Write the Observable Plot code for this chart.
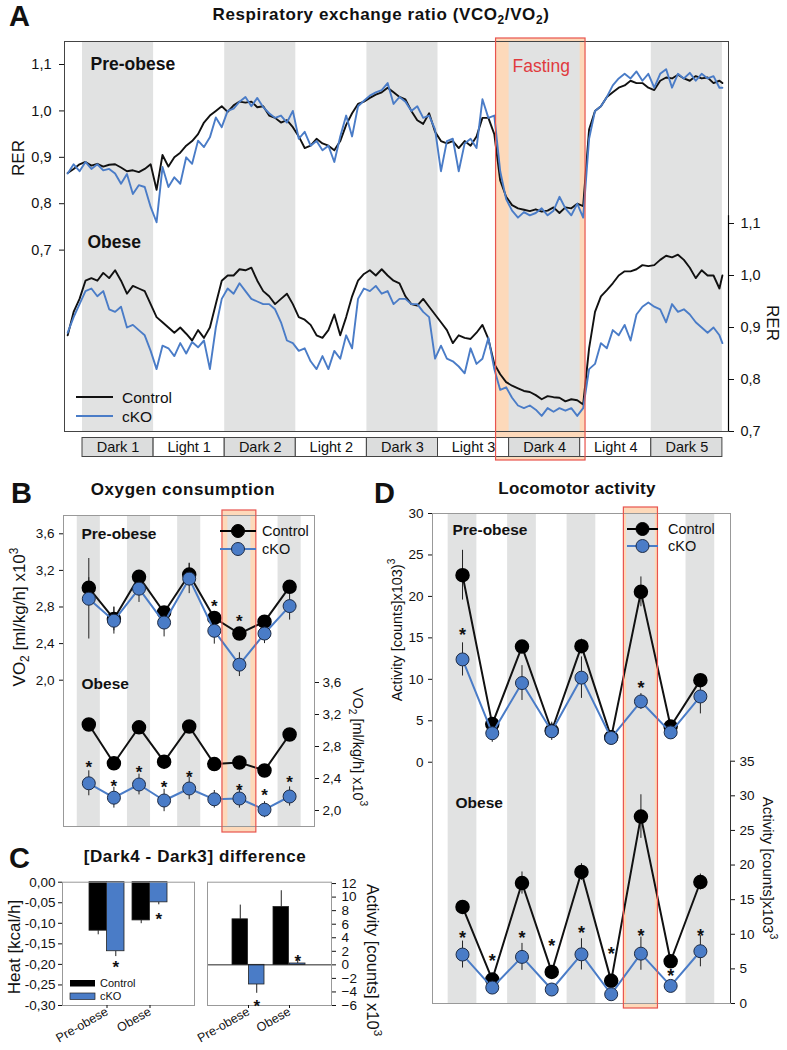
<!DOCTYPE html>
<html><head><meta charset="utf-8">
<script src="https://cdn.jsdelivr.net/npm/d3@7"></script>
<script src="https://cdn.jsdelivr.net/npm/@observablehq/plot@0.6"></script>
<style>
body{margin:0;background:#fff;}
#fig{position:relative;width:787px;height:1050px;overflow:hidden;background:#fff;}
#fig svg{position:absolute;}
</style></head><body><div id="fig"></div>
<script>
// ---------------- DATA ----------------
// Panel A: RER time course (hours from start of Dark 1)
const hoursA = d3.range(-2.5, 108, 1).concat([108]);
const preCtrl = [0.866,0.875,0.885,0.89,0.882,0.886,0.88,0.884,0.885,0.878,0.87,0.872,0.868,0.875,0.885,0.83,0.905,0.88,0.9,0.91,0.925,0.935,0.95,0.975,0.99,1.0,1.01,0.998,
 1.012,1.02,1.018,1.02,1.008,1.01,0.99,0.985,0.975,0.98,0.965,0.945,0.92,0.925,0.94,0.93,0.925,0.915,0.935,0.97,0.995,1.015,1.02,1.028,1.035,1.04,1.05,1.04,1.03,
 1.025,1.0,0.98,0.972,0.995,0.955,0.935,0.93,0.935,0.92,0.935,0.925,0.945,0.985,0.985,0.95,0.85,0.815,0.797,0.79,0.787,0.784,0.788,0.783,0.785,0.792,0.78,
 0.792,0.79,0.8,0.795,0.96,1.0,1.01,1.03,1.04,1.05,1.055,1.065,1.06,1.06,1.05,1.045,1.065,1.072,1.07,1.078,1.07,1.065,1.075,1.07,1.072,1.06,1.065,1.06];
const preKO = [0.865,0.885,0.87,0.89,0.875,0.885,0.872,0.875,0.865,0.843,0.864,0.821,0.84,0.836,0.793,0.76,0.879,0.836,0.857,0.843,0.9,0.886,0.936,0.922,0.943,0.986,0.965,1.0,
 1.005,1.02,1.03,1.01,1.028,1.008,0.995,0.985,0.99,0.975,1.0,0.94,0.955,0.925,0.935,0.915,0.925,0.89,0.945,0.99,0.945,1.01,1.022,1.033,1.04,1.045,1.06,1.015,1.03,
 1.02,1.0,1.01,0.985,0.99,0.96,0.87,0.935,0.94,0.87,0.93,0.94,0.92,1.025,0.985,0.99,0.87,0.81,0.785,0.77,0.782,0.775,0.78,0.79,0.775,0.785,0.815,
 0.79,0.775,0.8,0.77,0.94,1.0,1.01,1.03,1.055,1.07,1.08,1.07,1.085,1.065,1.08,1.05,1.08,1.09,1.05,1.08,1.07,1.082,1.065,1.08,1.07,1.075,1.05,1.05];
const obCtrl = [0.885,0.93,0.955,0.99,0.995,0.99,1.005,0.995,1.01,0.99,0.965,0.98,0.975,0.97,0.945,0.92,0.91,0.9,0.89,0.9,0.888,0.875,0.895,0.88,0.9,0.945,0.99,1.0,
 1.0,1.012,1.01,1.015,0.99,0.97,0.96,0.945,0.955,0.965,0.945,0.92,0.915,0.905,0.885,0.88,0.895,0.925,0.885,0.92,0.96,0.99,1.003,1.01,1.0,1.012,1.0,0.99,0.985,
 0.96,0.945,0.942,0.955,0.94,0.925,0.91,0.895,0.87,0.885,0.88,0.878,0.89,0.905,0.878,0.83,0.81,0.795,0.788,0.783,0.778,0.776,0.77,0.762,0.768,0.766,0.765,
 0.758,0.762,0.76,0.752,0.86,0.93,0.96,0.972,0.985,1.0,1.008,1.008,1.012,1.02,1.018,1.02,1.03,1.038,1.035,1.04,1.03,1.015,0.995,1.01,1.0,1.0,0.975,1.0];
const obKO = [0.89,0.92,0.945,0.97,0.975,0.96,0.97,0.935,0.93,0.94,0.9,0.905,0.895,0.885,0.855,0.82,0.865,0.86,0.845,0.87,0.85,0.872,0.862,0.875,0.82,0.9,0.955,0.975,
 0.965,0.985,0.97,0.955,0.95,0.945,0.945,0.935,0.91,0.875,0.87,0.855,0.86,0.835,0.82,0.845,0.82,0.855,0.84,0.885,0.86,0.955,0.975,0.97,0.98,0.965,0.97,0.945,0.955,
 0.955,0.945,0.945,0.93,0.92,0.84,0.865,0.84,0.835,0.825,0.812,0.86,0.83,0.84,0.88,0.82,0.78,0.785,0.765,0.75,0.745,0.75,0.742,0.73,0.745,0.738,0.745,
 0.74,0.745,0.73,0.745,0.82,0.83,0.87,0.86,0.895,0.885,0.905,0.875,0.925,0.94,0.948,0.94,0.935,0.91,0.945,0.93,0.935,0.925,0.91,0.9,0.89,0.9,0.885,0.87];
const periodLabels = ["Dark 1","Light 1","Dark 2","Light 2","Dark 3","Light 3","Dark 4","Light 4","Dark 5"];
const periodStart = [0,12,24,36,48,60,72,84,96];
const periodHours = 12;
const fastingHours = [69.8, 84.9];
const rerTicks = [0.7,0.8,0.9,1.0,1.1];

// Panel B: VO2 (x10^3 ml/kg/h), 9 periods
const bPreCtrl = [3.01,2.67,3.13,2.74,3.155,2.68,2.51,2.64,3.02];
const bPreCtrlErr = [0.11,0.13,0.07,0.05,0.124,0.05,0.05,0.05,0.05];
const bPreKO = [2.89,2.65,3.0,2.63,3.11,2.54,2.17,2.51,2.81];
const bPreKOErr = [0.44,0.146,0.15,0.157,0.164,0.146,0.13,0.11,0.153];
const bObCtrl = [3.075,2.59,3.04,2.61,3.05,2.58,2.6,2.5,2.95];
const bObCtrlErr = [0.04,0.04,0.04,0.04,0.04,0.04,0.04,0.04,0.04];
const bObKO = [2.34,2.16,2.325,2.125,2.275,2.14,2.15,2.01,2.175];
const bObKOErr = [0.156,0.13,0.13,0.14,0.14,0.11,0.12,0.1,0.12];
const vo2Ticks = [2.0,2.4,2.8,3.2,3.6];
const starsBPre = [{i:5,y:2.852},{i:6,y:2.69}];
const starsBOb = [{i:0,y:2.59},{i:1,y:2.354},{i:2,y:2.525},{i:3,y:2.34},{i:4,y:2.47},{i:6,y:2.30},{i:7,y:2.24},{i:8,y:2.40}];

// Panel C: Dark4 - Dark3 differences
const groups = ["Pre-obese","Obese"];
const heatCtrl = [-0.118,-0.093], heatCtrlErr = [0.01,0.008];
const heatKO = [-0.168,-0.049], heatKOErr = [0.013,0.006];
const actCtrl = [6.72,8.54], actCtrlErr = [2.1,2.4];
const actKO = [-2.9,0.2], actKOErr = [1.3,0.55];
const heatTicks = [-0.30,-0.25,-0.20,-0.15,-0.10,-0.05,0.00];
const actTicks = [-6,-4,-2,0,2,4,6,8,10,12];
const starsHeat = [{g:"Pre-obese",y:-0.196},{g:"Obese",y:-0.081}];
const starsAct = [{g:"Pre-obese",y:-5.53},{g:"Obese",y:1.08}];

// Panel D: locomotor activity (counts x10^3)
const dPreCtrl = [22.56,4.6,13.95,3.8,14.0,3.0,20.55,4.3,9.9];
const dPreCtrlErr = [3.0,0.4,0.5,0.4,0.84,0.3,1.8,0.4,0.5];
const dPreKO = [12.4,3.5,9.55,3.73,10.2,2.93,7.33,3.6,7.93];
const dPreKOErr = [2.0,1.1,2.1,1.1,2.5,0.3,0.95,0.8,2.1];
const dObCtrl = [13.94,3.46,17.4,4.56,19.0,3.27,27.0,6.1,17.55];
const dObCtrlErr = [0.5,0.4,1.6,0.5,1.2,0.4,3.15,0.5,1.15];
const dObKO = [7.07,2.3,6.73,2.02,7.1,1.34,7.2,2.54,7.55];
const dObKOErr = [1.95,0.5,1.95,0.4,2.25,0.3,2.4,0.5,2.25];
const actPreTicks = [0,5,10,15,20,25,30];
const actObTicks = [0,5,10,15,20,25,30,35];
const starsDPre = [{i:0,y:15.87},{i:6,y:9.48}];
const starsDOb = [{i:0,y:10.1},{i:1,y:6.72},{i:2,y:10.1},{i:3,y:8.89},{i:4,y:10.82},{i:5,y:7.79},{i:6,y:10.43},{i:7,y:4.56},{i:8,y:10.43}];
const darkIdx = [0,2,4,6,8];
const fastIdx = 6;

// ---------------- STYLE ----------------
const FONT = "'Liberation Sans', Arial, Helvetica, sans-serif";
const BLACK = "#111", BLUE = "#4a7cc7", GRAY = "#e1e2e2", ORANGE = "#fdd9ba", RED = "#e8544e";
const baseStyle = {fontFamily: FONT, fontSize: "13px", background: "transparent", overflow: "visible", color: "#111"};
const comma = p => d => d.toFixed(p).replace(".", ",");
const fig = document.getElementById("fig");
function place(svg, left, top) {
  svg.style.position = "absolute"; svg.style.left = left + "px"; svg.style.top = top + "px";
  fig.appendChild(svg);
}

// ---------------- PANEL A ----------------
const aX = {domain: [-3.04, 109.03], axis: null};
const aM = {marginLeft: 64, marginRight: 59};
const serA = vals => hoursA.map((h, i) => ({h, v: vals[i]}));
const periods = periodLabels.map((label, i) => ({label, start: periodStart[i], end: periodStart[i] + periodHours, dark: label.startsWith("Dark")}));
const darkA = periods.filter(d => d.dark);
const fastA = [{start: fastingHours[0], end: fastingHours[1]}];

place(Plot.plot({width: 787, height: 422, marginTop: 0, marginBottom: 0, ...aM, style: baseStyle, x: aX, y: {axis: null},
  marks: [Plot.rect(fastA, {x1: "start", x2: "end", fill: ORANGE})]}), 0, 38);

place(Plot.plot({width: 787, height: 470, marginTop: 41, marginBottom: 39, ...aM, style: baseStyle, x: aX,
  y: {domain: [0.3091, 1.1496], axis: null},
  marks: [
    Plot.rect(darkA, {x1: "start", x2: "end", fill: GRAY}),
    Plot.line(serA(preCtrl), {x: "h", y: "v", stroke: BLACK, strokeWidth: 1.9}),
    Plot.line(serA(preKO), {x: "h", y: "v", stroke: BLUE, strokeWidth: 1.9}),
    Plot.frame({stroke: "#444"}),
    Plot.axisY({anchor: "left", ticks: rerTicks, tickFormat: comma(1), tickSize: 5, tickPadding: 8, fontSize: 14.5, label: null}),
    Plot.text(["Pre-obese"], {frameAnchor: "top-left", dx: 26, dy: 16, lineAnchor: "top", textAnchor: "start", fontWeight: "bold", fontSize: 17.5}),
    Plot.text(["Fasting"], {frameAnchor: "top-left", dx: 448, dy: 18, lineAnchor: "top", textAnchor: "start", fill: "#e03a3e", fontSize: 17.5})
  ]}), 0, 0);

place(Plot.plot({width: 787, height: 470, marginTop: 41, marginBottom: 39, ...aM, style: baseStyle, x: aX,
  y: {domain: [0.7, 1.45], axis: null},
  marks: [
    Plot.line(serA(obCtrl), {x: "h", y: "v", stroke: BLACK, strokeWidth: 1.9}),
    Plot.line(serA(obKO), {x: "h", y: "v", stroke: BLUE, strokeWidth: 1.9}),
    Plot.ruleX([aX.domain[1]], {y1: rerTicks[0], y2: 1.115, stroke: "#000", strokeWidth: 1.2}),
    Plot.axisY({anchor: "right", ticks: rerTicks, tickFormat: comma(1), tickSize: 5, tickPadding: 7, fontSize: 14.5, label: null}),
    Plot.text(["Obese"], {frameAnchor: "top-left", dx: 23, dy: 194, lineAnchor: "top", textAnchor: "start", fontWeight: "bold", fontSize: 17.5})
  ]}), 0, 0);

place(Plot.plot({width: 787, height: 20, marginTop: 0.5, marginBottom: 0.5, ...aM, style: baseStyle, x: aX, y: {axis: null},
  marks: [
    Plot.rect(periods, {x1: "start", x2: "end", fill: d => d.dark ? "#dcdddd" : "#fff", stroke: "#444", strokeWidth: 1}),
    Plot.text(periods, {x: d => d.start + periodHours / 2, text: "label", frameAnchor: "middle", fontSize: 14.5})
  ]}), 0, 437);

place(Plot.plot({width: 787, height: 422, marginTop: 0, marginBottom: 0, ...aM, style: baseStyle, x: aX, y: {axis: null},
  marks: [Plot.rect(fastA, {x1: "start", x2: "end", fill: "none", stroke: RED, strokeWidth: 1.2})]}), 0, 38);

// ---------------- helper for B & D ----------------
function pointPanel(cfg) {
  const rows = (c, ce, k, ke) => c.map((v, i) => ({i, c: v, ce: ce[i], k: k[i], ke: ke[i]}));
  const pre = rows(cfg.preC, cfg.preCE, cfg.preK, cfg.preKE);
  const ob = rows(cfg.obC, cfg.obCE, cfg.obK, cfg.obKE);
  const x = {domain: cfg.xDomain, axis: null};
  const m = {marginLeft: cfg.left, marginRight: 787 - cfg.right};
  const fast = [{a: fastIdx - cfg.fastHalf, b: fastIdx + cfg.fastHalf}];
  const pts = (data) => [
    Plot.ruleX(data, {x: "i", y1: d => d.c - d.ce, y2: d => d.c + d.ce, stroke: "#222", strokeWidth: 1}),
    Plot.ruleX(data, {x: "i", y1: d => d.k - d.ke, y2: d => d.k + d.ke, stroke: "#222", strokeWidth: 1}),
    Plot.line(data, {x: "i", y: "c", stroke: BLACK, strokeWidth: 2}),
    Plot.dot(data, {x: "i", y: "c", r: 6.5, fill: "#000", stroke: "#000"}),
    Plot.line(data, {x: "i", y: "k", stroke: BLUE, strokeWidth: 2}),
    Plot.dot(data, {x: "i", y: "k", r: 6.5, fill: BLUE, stroke: "#1d2b45", strokeWidth: 1})
  ];
  const stars = s => Plot.text(s, {x: "i", y: "y", text: d => "*", fontSize: cfg.starSize, fontWeight: "bold", lineAnchor: "middle", dy: cfg.starSize * 0.25});
  const h = cfg.bottom - cfg.top;
  place(Plot.plot({width: 787, height: cfg.fBottom - cfg.fTop, marginTop: 0, marginBottom: 0, ...m, style: baseStyle, x, y: {axis: null},
    marks: [Plot.rect(fast, {x1: "a", x2: "b", fill: ORANGE})]}), 0, cfg.fTop);
  place(Plot.plot({width: 787, height: h + 30, marginTop: 15, marginBottom: 15, ...m, style: baseStyle, x,
    y: {domain: cfg.preDomain, axis: null},
    marks: [
      Plot.rect(darkIdx, {x1: d => d - cfg.stripeHalf, x2: d => d + cfg.stripeHalf, fill: GRAY}),
      Plot.frame({stroke: "#999"}),
      ...pts(pre), stars(cfg.starsPre),
      Plot.axisY({anchor: "left", ticks: cfg.preTicks, tickFormat: cfg.fmt, tickSize: 4, tickPadding: cfg.padL, fontSize: 13.5, label: null}),
      Plot.text(["Pre-obese"], {frameAnchor: "top-left", dx: cfg.preLab[0], dy: cfg.preLab[1], lineAnchor: "top", textAnchor: "start", fontWeight: "bold", fontSize: 15.5})
    ]}), 0, cfg.top - 15);
  place(Plot.plot({width: 787, height: h + 30, marginTop: 15, marginBottom: 15, ...m, style: baseStyle, x,
    y: {domain: cfg.obDomain, axis: null},
    marks: [
      ...(cfg.rightLine ? [Plot.ruleX([cfg.xDomain[1]], {y1: cfg.obTicks[0], y2: cfg.obTicks[cfg.obTicks.length - 1], stroke: "#333"})] : []),
      ...pts(ob), stars(cfg.starsOb),
      Plot.axisY({anchor: "right", ticks: cfg.obTicks, tickFormat: cfg.fmt, tickSize: 4, tickPadding: cfg.padR, fontSize: 13.5, label: null}),
      Plot.text(["Obese"], {frameAnchor: "top-left", dx: cfg.obLab[0], dy: cfg.obLab[1], lineAnchor: "top", textAnchor: "start", fontWeight: "bold", fontSize: 15.5})
    ]}), 0, cfg.top - 15);
  place(Plot.plot({width: 787, height: cfg.fBottom - cfg.fTop, marginTop: 0, marginBottom: 0, ...m, style: baseStyle, x, y: {axis: null},
    marks: [Plot.rect(fast, {x1: "a", x2: "b", fill: "none", stroke: RED, strokeWidth: 1.2})]}), 0, cfg.fTop);
}

// Panel B
pointPanel({
  left: 63, right: 314, top: 515, bottom: 826, fTop: 510, fBottom: 832,
  xDomain: [-1.008, 8.992], stripeHalf: 0.46, fastHalf: 0.675, starSize: 17,
  preC: bPreCtrl, preCE: bPreCtrlErr, preK: bPreKO, preKE: bPreKOErr,
  obC: bObCtrl, obCE: bObCtrlErr, obK: bObKO, obKE: bObKOErr,
  preDomain: [0.401, 3.8], obDomain: [1.8, 5.6875], preTicks: vo2Ticks, obTicks: vo2Ticks,
  fmt: comma(1), padL: 5, padR: 4, starsPre: starsBPre, starsOb: starsBOb,
  preLab: [18, 12], obLab: [18, 162], rightLine: false
});
// Panel D
pointPanel({
  left: 432, right: 730, top: 513, bottom: 1003, fTop: 507, fBottom: 1008,
  xDomain: [-1.01, 9.013], stripeHalf: 0.483, fastHalf: 0.573, starSize: 18,
  preC: dPreCtrl, preCE: dPreCtrlErr, preK: dPreKO, preKE: dPreKOErr,
  obC: dObCtrl, obCE: dObCtrlErr, obK: dObKO, obKE: dObKOErr,
  preDomain: [-29.1, 30], obDomain: [0, 70.78], preTicks: actPreTicks, obTicks: actObTicks,
  fmt: d3.format("d"), padL: 5, padR: 5, starsPre: starsDPre, starsOb: starsDOb,
  preLab: [20, 10], obLab: [23, 283], rightLine: true
});

// ---------------- PANEL C ----------------
function barPanel(cfg) {
  const bw = d3.scaleBand().domain(groups).range([cfg.left, cfg.right]).paddingInner(cfg.pi).paddingOuter(cfg.po).bandwidth();
  const ctrl = groups.map((g, i) => ({g, v: cfg.c[i], e: cfg.ce[i]}));
  const ko = groups.map((g, i) => ({g, v: cfg.k[i], e: cfg.ke[i]}));
  const errEnd = d => d.v + Math.sign(d.v) * d.e;
  place(Plot.plot({width: 787, height: 180, marginTop: 11.7, marginBottom: 45, marginLeft: cfg.left, marginRight: 787 - cfg.right,
    style: baseStyle,
    x: {type: "band", domain: groups, paddingInner: cfg.pi, paddingOuter: cfg.po, axis: null},
    y: {domain: cfg.domain, axis: null},
    marks: [
      Plot.ruleX(ctrl, {x: "g", y1: "v", y2: errEnd, dx: -bw / 4, stroke: "#222"}),
      Plot.ruleX(ko, {x: "g", y1: "v", y2: errEnd, dx: bw / 4, stroke: "#222"}),
      Plot.barY(ctrl, {x: "g", y: "v", fill: "#000", stroke: "#222", strokeWidth: 0.8, insetRight: bw / 2}),
      Plot.barY(ko, {x: "g", y: "v", fill: BLUE, stroke: "#222", strokeWidth: 0.8, insetLeft: bw / 2}),
      ...(cfg.zero ? [Plot.ruleY([0], {stroke: "#222"})] : []),
      Plot.frame({stroke: "#999"}),
      Plot.text(cfg.stars, {x: "g", y: "y", text: d => "*", dx: bw / 4, fontSize: 17, fontWeight: "bold", lineAnchor: "middle", dy: 4.3}),
      Plot.axisY({anchor: cfg.anchor, ticks: cfg.ticks, tickFormat: cfg.fmt, tickSize: 4, tickPadding: cfg.pad, fontSize: 13.5, label: null}),
      Plot.axisX({anchor: "bottom", tickRotate: -30, tickSize: 3, tickPadding: 2, fontSize: 12.5, label: null})
    ]}), 0, 870);
}
barPanel({left: 62, right: 194, pi: 0.195, po: 0.61, c: heatCtrl, ce: heatCtrlErr, k: heatKO, ke: heatKOErr,
  domain: [-0.30, 0.0], ticks: heatTicks, fmt: comma(2), anchor: "left", pad: 3, stars: starsHeat, zero: false});
barPanel({left: 207, right: 331, pi: 0.214, po: 0.587, c: actCtrl, ce: actCtrlErr, k: actKO, ke: actKOErr,
  domain: [-6, 12.2], ticks: actTicks, fmt: d3.format("d"), anchor: "right", pad: 6, stars: starsAct, zero: true});

// ---------------- TITLES, LABELS, LEGENDS ----------------
const sub = (t, s) => `<tspan dy="4" font-size="70%">${t}</tspan><tspan dy="-4">${s}</tspan>`;
const sup = t => `<tspan dy="-7" font-size="70%">${t}</tspan>`;
const rot = (x, y, a, size, content) => `<text transform="translate(${x},${y}) rotate(${a})" text-anchor="middle" dy="0.35em" font-size="${size}">${content}</text>`;
const legLine = (x1, x2, y, color, dot) => `<line x1="${x1}" x2="${x2}" y1="${y}" y2="${y}" stroke="${color}" stroke-width="2"/>` +
  (dot ? `<circle cx="${(x1 + x2) / 2}" cy="${y}" r="6.5" fill="${color}" stroke="${color === BLUE ? '#1d2b45' : '#000'}"/>` : "");
const ov = document.createElementNS("http://www.w3.org/2000/svg", "svg");
ov.setAttribute("width", 787); ov.setAttribute("height", 1050);
ov.style.left = "0px"; ov.style.top = "0px"; ov.style.pointerEvents = "none";
ov.setAttribute("font-family", FONT);
ov.setAttribute("fill", "#111");
ov.innerHTML = `
<g font-weight="bold">
<text x="9" y="26" font-size="29">A</text>
<text x="11" y="503" font-size="29">B</text>
<text x="9" y="868" font-size="29">C</text>
<text x="374" y="503" font-size="29">D</text>
<text x="381" y="20" text-anchor="middle" font-size="17" letter-spacing="0.6">Respiratory exchange ratio (VCO${sub("2", "/VO")}<tspan dy="4" font-size="70%">2</tspan><tspan dy="-4">)</tspan></text>
<text x="183" y="495" text-anchor="middle" font-size="17" letter-spacing="0.6">Oxygen consumption</text>
<text x="195" y="862" text-anchor="middle" font-size="17" letter-spacing="0.6">[Dark4 - Dark3] difference</text>
<text x="577" y="494" text-anchor="middle" font-size="17" letter-spacing="0.3">Locomotor activity</text>
</g>
${rot(18, 158, -90, 17, "RER")}
${rot(773, 323, 90, 17, "RER")}
${rot(19, 617, -90, 17, "VO" + sub("2", " [ml/kg/h] x10") + sup("3"))}
${rot(358, 747, 90, 14.5, "VO" + sub("2", " [ml/kg/h] x10") + sup("3"))}
${rot(14, 947, -90, 17, "Heat [kcal/h]")}
${rot(373, 960, 90, 16.5, "Activity [counts] x10" + sup("3"))}
${rot(397, 630, -90, 14.5, "Activity [counts]x103)" + sup("3"))}
${rot(768, 868, 90, 15, "Activity [counts]x103" + sup("3"))}
${legLine(76, 113, 397, BLACK, false)}${legLine(76, 113, 416, BLUE, false)}
<text x="122" y="403" font-size="15.5">Control</text><text x="122" y="422" font-size="15.5">cKO</text>
${legLine(220, 256, 531, "#000", true)}${legLine(220, 256, 549, BLUE, true)}
<text x="262" y="536" font-size="14.5">Control</text><text x="262" y="554" font-size="14.5">cKO</text>
${legLine(627, 658, 529, "#000", true)}${legLine(627, 658, 546, BLUE, true)}
<text x="668" y="534" font-size="14.5">Control</text><text x="668" y="551" font-size="14.5">cKO</text>
<rect x="70" y="980" width="25" height="6.5" fill="#000"/>
<rect x="70" y="993" width="25" height="6.5" fill="${BLUE}" stroke="#222" stroke-width="0.7"/>
<text x="100" y="987" font-size="11">Control</text><text x="100" y="1000" font-size="11">cKO</text>
`;
fig.appendChild(ov);
</script></body></html>
